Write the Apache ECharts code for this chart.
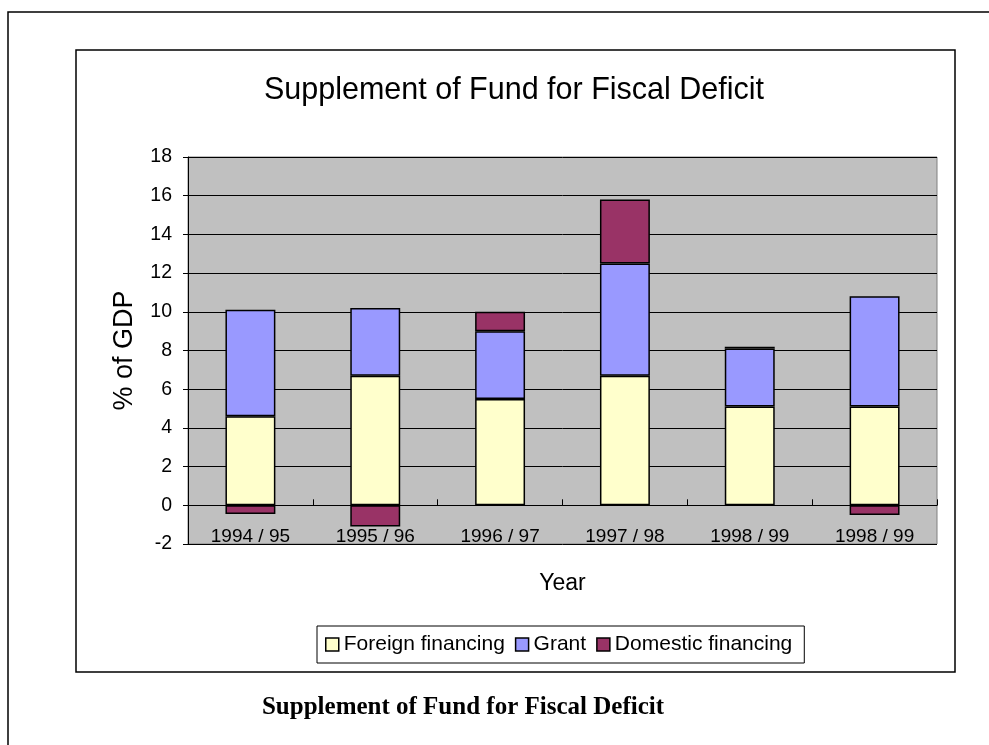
<!DOCTYPE html>
<html>
<head>
<meta charset="utf-8">
<script src="https://cdn.jsdelivr.net/npm/echarts@6/dist/echarts.min.js"></script>
<style>
  html, body { margin: 0; padding: 0; background: #fff; }
  #chart { width: 989px; height: 745px; }
</style>
</head>
<body>
<div id="chart"></div>
<script>
// Fiscal years on the category axis
const years = ['1994/95', '1995/96', '1996/97', '1997/98', '1998/99', '1998/99'];

// Sources of financing, % of GDP
const foreignFinancing = [4.6, 6.7, 5.5, 6.7, 5.1, 5.1];
const grant = [5.5, 3.5, 3.5, 5.8, 3.0, 5.7];
const domesticFinancing = [-0.45, -1.1, 1.0, 3.3, 0.1, -0.5];

// Value axis range and step
const yMin = -2;
const yMax = 18;
const yStep = 2;

const FONT = "'Liberation Sans', Arial, sans-serif";

const chart = echarts.init(document.getElementById('chart'), null, { renderer: 'canvas' });

function barSeries(name, data, color) {
  return {
    name: name,
    type: 'bar',
    stack: 'total',
    barWidth: '40%',
    data: data,
    itemStyle: { color: color, borderColor: '#000', borderWidth: 1.5 },
    emphasis: { disabled: true }
  };
}

chart.setOption({
  animation: false,
  backgroundColor: '#fff',
  textStyle: { fontFamily: FONT },
  title: {
    text: 'Supplement of Fund for Fiscal Deficit',
    left: 509,
    textAlign: 'center',
    top: 70,
    textStyle: { fontFamily: FONT, fontSize: 30.5, fontWeight: 'normal', color: '#000' }
  },
  legend: {
    left: 317,
    top: 626,
    padding: [8, 12, 8, 8],
    borderColor: '#000',
    borderWidth: 1,
    icon: 'rect',
    itemWidth: 13,
    itemHeight: 13,
    itemGap: 10,
    selectedMode: false,
    textStyle: { fontFamily: FONT, fontSize: 21, color: '#000' },
    itemStyle: { borderColor: '#000', borderWidth: 1.5 },
    data: ['Foreign financing', 'Grant', 'Domestic financing']
  },
  grid: {
    left: 188,
    top: 157,
    width: 749,
    height: 387,
    show: true,
    backgroundColor: '#C0C0C0',
    borderColor: '#808080',
    borderWidth: 1
  },
  xAxis: {
    type: 'category',
    data: years,
    name: 'Year',
    nameLocation: 'middle',
    nameGap: 28,
    nameTextStyle: { fontFamily: FONT, fontSize: 23, color: '#000' },
    axisLine: { onZero: true, lineStyle: { color: '#000', width: 1 } },
    axisTick: { show: true, inside: true, length: 6, lineStyle: { color: '#000' } },
    axisLabel: {
      fontFamily: FONT,
      fontSize: 19,
      color: '#000',
      margin: -17,
      formatter: function (v) { return v.replace('/', ' / '); }
    },
    splitLine: { show: false }
  },
  yAxis: {
    type: 'value',
    min: yMin,
    max: yMax,
    interval: yStep,
    name: '% of GDP',
    nameLocation: 'middle',
    nameRotate: 90,
    nameGap: 50,
    nameTextStyle: { fontFamily: FONT, fontSize: 27, color: '#000' },
    axisLine: { show: true, lineStyle: { color: '#000', width: 1 } },
    axisTick: { show: true, inside: false, length: 5, lineStyle: { color: '#000' } },
    axisLabel: { fontFamily: FONT, fontSize: 19.5, color: '#000', margin: 16 },
    splitLine: { show: true, lineStyle: { color: '#000', width: 1 } }
  },
  series: [
    barSeries('Foreign financing', foreignFinancing, '#FFFFCC'),
    barSeries('Grant', grant, '#9999FF'),
    barSeries('Domestic financing', domesticFinancing, '#993366')
  ],
  graphic: [
    {
      type: 'rect',
      silent: true,
      z: -1,
      shape: { x: 8, y: 12, width: 1200, height: 900 },
      style: { fill: 'none', stroke: '#000', lineWidth: 1.5 }
    },
    {
      type: 'rect',
      silent: true,
      z: -1,
      shape: { x: 76, y: 50, width: 879, height: 622 },
      style: { fill: 'none', stroke: '#000', lineWidth: 1.5 }
    },
    {
      type: 'text',
      silent: true,
      x: 463,
      y: 708,
      style: {
        text: 'Supplement of Fund for Fiscal Deficit',
        fill: '#000',
        font: "bold 25px 'Liberation Serif', 'Times New Roman', serif",
        align: 'center',
        verticalAlign: 'middle'
      }
    }
  ]
});
</script>
</body>
</html>
